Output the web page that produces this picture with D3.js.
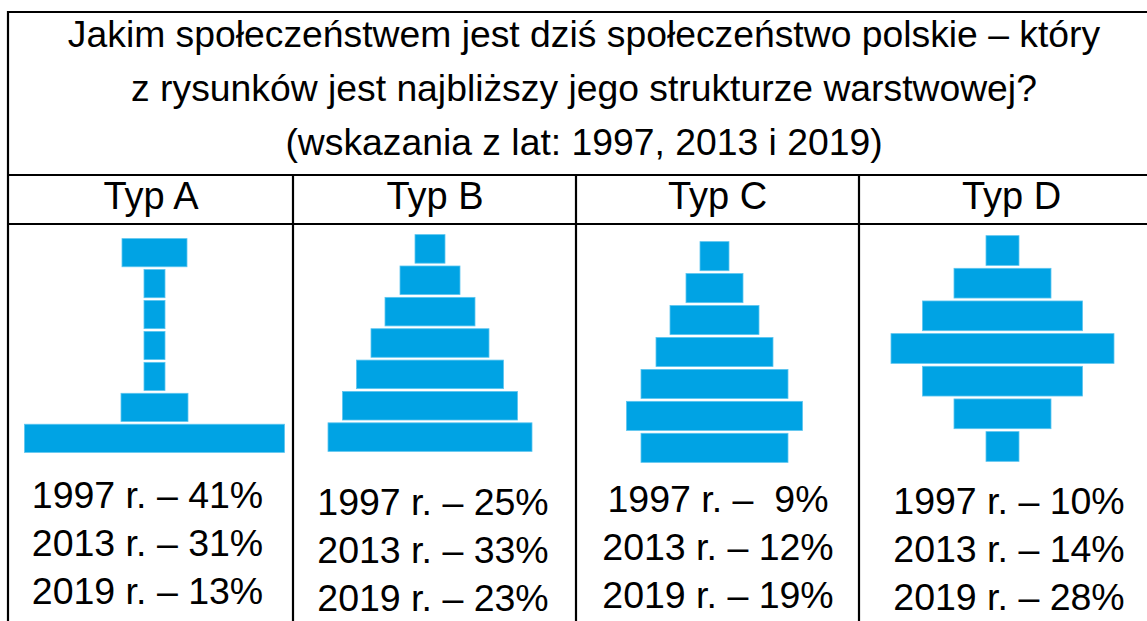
<!DOCTYPE html>
<html>
<head>
<meta charset="utf-8">
<script src="https://cdn.jsdelivr.net/npm/d3@7"></script>
<style>
  html, body { margin: 0; padding: 0; background: #fff; }
  svg { display: block; }
  text { font-family: "Liberation Sans", Arial, sans-serif; fill: #000; }
</style>
</head>
<body>
<div id="chart"></div>
<script>
// ---- data ----
const titleLines = [
  "Jakim społeczeństwem jest dziś społeczeństwo polskie – który",
  "z rysunków jest najbliższy jego strukturze warstwowej?",
  "(wskazania z lat: 1997, 2013 i 2019)"
];
const types = ["Typ A", "Typ B", "Typ C", "Typ D"];
const years = ["1997", "2013", "2019"];
const share1997 = [41, 25, 9, 10];
const share2013 = [31, 33, 12, 14];
const share2019 = [13, 23, 19, 28];
// relative widths of the seven layers of each drawing (top to bottom)
const layersA = [65, 21, 21, 21, 21, 67, 260];
const layersB = [30, 60, 90, 118, 147, 175, 204];
const layersC = [29, 57, 89, 117, 147, 176, 147];
const layersD = [33, 97, 160, 223, 160, 97, 33];

// ---- layout ----
const W = 1147, H = 621;
const svg = d3.select("#chart").append("svg").attr("width", W).attr("height", H);

const colEdges = [8, 293, 576, 859, 1160];
const tableTop = 12, titleBottom = 175, headBottom = 224;
const layers = [layersA, layersB, layersC, layersD];
const shares = [share1997, share2013, share2019];

// width scale shared by all drawings
const wScale = d3.scaleLinear().domain([0, 260]).range([0, 260]);
// per-column drawing geometry
const shapeCenter = [154.5, 430, 714.5, 1002.5];
const shapeRange = [[238, 453], [234, 452], [241, 463], [235, 462]];
const headCenter = [151, 435, 717.5, 1011.5];
const labelCenter = [147.5, 433, 718, 1009];
const labelBase = [508, 515, 512, 514];

// table lines
const g = svg.append("g");
const line = (x1, y1, x2, y2) => g.append("line")
  .attr("x1", x1).attr("y1", y1).attr("x2", x2).attr("y2", y2)
  .attr("stroke", "#000").attr("stroke-width", 2.2);
line(colEdges[0] - 1, tableTop, W, tableTop);
line(colEdges[0] - 1, titleBottom, W, titleBottom);
line(colEdges[0] - 1, headBottom, W, headBottom);
line(colEdges[0], tableTop - 1, colEdges[0], H);
colEdges.slice(1, 4).forEach(x => line(x, titleBottom, x, H));

// title
svg.append("g").selectAll("text").data(titleLines).join("text")
  .attr("x", 584)
  .attr("y", (d, i) => 47 + i * 54)
  .attr("text-anchor", "middle")
  .attr("font-size", 37.3)
  .text(d => d);

// headers
svg.append("g").selectAll("text").data(types).join("text")
  .attr("x", (d, i) => headCenter[i])
  .attr("y", 209)
  .attr("text-anchor", "middle")
  .attr("font-size", 38)
  .text(d => d);

// drawings
layers.forEach((arr, ci) => {
  const y = d3.scaleBand().domain(d3.range(arr.length))
    .range(shapeRange[ci]).paddingInner(0.09).paddingOuter(0.02);
  svg.append("g").selectAll("rect").data(arr).join("rect")
    .attr("x", d => shapeCenter[ci] - wScale(d) / 2)
    .attr("y", (d, i) => y(i))
    .attr("width", d => wScale(d))
    .attr("height", y.bandwidth())
    .attr("fill", "#00a3e4")
    .attr("stroke", "#5cc5ef")
    .attr("stroke-width", 0.8);
});

// labels
types.forEach((t, ci) => {
  svg.append("g").selectAll("text").data(years).join("text")
    .attr("x", labelCenter[ci])
    .attr("y", (d, i) => labelBase[ci] + i * 48)
    .attr("text-anchor", "middle")
    .attr("font-size", 37.5)
    .style("white-space", "pre")
    .text((d, i) => {
      const v = shares[i][ci];
      return d + " r. – " + (v < 10 ? " " : "") + v + "%";
    });
});
</script>
</body>
</html>
